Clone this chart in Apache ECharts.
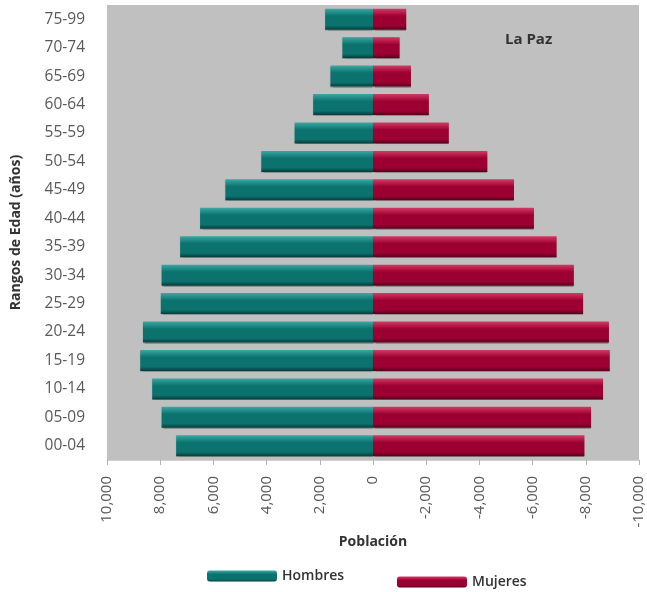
<!DOCTYPE html>
<html>
<head>
<meta charset="utf-8">
<script src="https://cdn.jsdelivr.net/npm/echarts@6/dist/echarts.min.js"></script>
<style>
  html, body { margin: 0; padding: 0; background: #ffffff; }
  #chart { width: 647px; height: 592px; }
</style>
</head>
<body>
<div id="chart"></div>
<script>
// Age groups, youngest at the bottom of the pyramid
const ageGroups = ['00-04', '05-09', '10-14', '15-19', '20-24', '25-29', '30-34', '35-39',
                   '40-44', '45-49', '50-54', '55-59', '60-64', '65-69', '70-74', '75-99'];

// Men drawn to the left (positive), women to the right (negative)
const hombres = [7400, 7950, 8300, 8750, 8650, 7980, 7950, 7250,
                 6500, 5550, 4200, 2950, 2250, 1600, 1150, 1800];
const mujeres = [-7950, -8200, -8650, -8900, -8870, -7900, -7550, -6900,
                 -6050, -5300, -4300, -2850, -2100, -1430, -1000, -1250];

const axisMin = -10000;
const axisMax = 10000;
const axisStep = 2000;

const font = 'Open Sans';

function barGradient(top, mid, bottom) {
  return new echarts.graphic.LinearGradient(0, 0, 0, 1, [
    { offset: 0, color: top },
    { offset: 0.35, color: mid },
    { offset: 0.8, color: mid },
    { offset: 1, color: bottom }
  ]);
}

const legendText = { fontFamily: font, fontSize: 14, fontWeight: 600, color: '#333333' };

const chart = echarts.init(document.getElementById('chart'), null, { renderer: 'canvas' });

chart.setOption({
  animation: false,
  title: {
    text: 'La Paz',
    left: 500,
    top: 27,
    textStyle: { fontFamily: font, fontSize: 15, fontWeight: 'bold', color: '#333333' }
  },
  legend: [
    {
      data: ['Hombres'],
      icon: 'roundRect',
      left: 202,
      top: 564,
      itemWidth: 70,
      itemHeight: 11,
      itemGap: 4,
      textStyle: legendText
    },
    {
      data: ['Mujeres'],
      icon: 'roundRect',
      left: 392,
      top: 570,
      itemWidth: 70,
      itemHeight: 11,
      itemGap: 4,
      textStyle: legendText
    }
  ],
  grid: {
    left: 107,
    right: 8,
    top: 5,
    bottom: 132,
    show: true,
    backgroundColor: '#c0c0c0',
    borderWidth: 0
  },
  xAxis: {
    type: 'value',
    inverse: true,
    min: axisMin,
    max: axisMax,
    interval: axisStep,
    name: 'Población',
    nameLocation: 'middle',
    nameGap: 73,
    nameTextStyle: { fontFamily: font, fontSize: 14, fontWeight: 'bold', color: '#333333' },
    splitLine: { show: false },
    axisLine: { show: true, lineStyle: { color: '#d0d0d0' } },
    axisTick: { show: true, length: 5, lineStyle: { color: '#b0b0b0' } },
    axisLabel: {
      rotate: 90,
      margin: 16,
      fontFamily: font,
      fontSize: 15,
      color: '#595959',
      formatter: v => v.toLocaleString('en-US')
    }
  },
  yAxis: {
    type: 'category',
    data: ageGroups,
    name: 'Rangos de Edad (años)',
    nameLocation: 'middle',
    nameGap: 84,
    nameTextStyle: { fontFamily: font, fontSize: 14, fontWeight: 'bold', color: '#333333' },
    axisLine: { show: false },
    axisTick: { show: false },
    axisLabel: {
      margin: 22,
      fontFamily: font,
      fontSize: 15.5,
      color: '#595959'
    }
  },
  series: [
    {
      name: 'Hombres',
      type: 'bar',
      data: hombres,
      barCategoryGap: '26%',
      barGap: '-100%',
      itemStyle: {
        color: barGradient('#3aa8a2', '#0b726e', '#053b39'),
        shadowColor: 'rgba(0,0,0,0.25)',
        shadowOffsetY: 1,
        shadowBlur: 1
      }
    },
    {
      name: 'Mujeres',
      type: 'bar',
      data: mujeres,
      barCategoryGap: '26%',
      barGap: '-100%',
      itemStyle: {
        color: barGradient('#d23a62', '#9c0032', '#55001b'),
        shadowColor: 'rgba(0,0,0,0.25)',
        shadowOffsetY: 1,
        shadowBlur: 1
      }
    }
  ]
});
</script>
</body>
</html>
